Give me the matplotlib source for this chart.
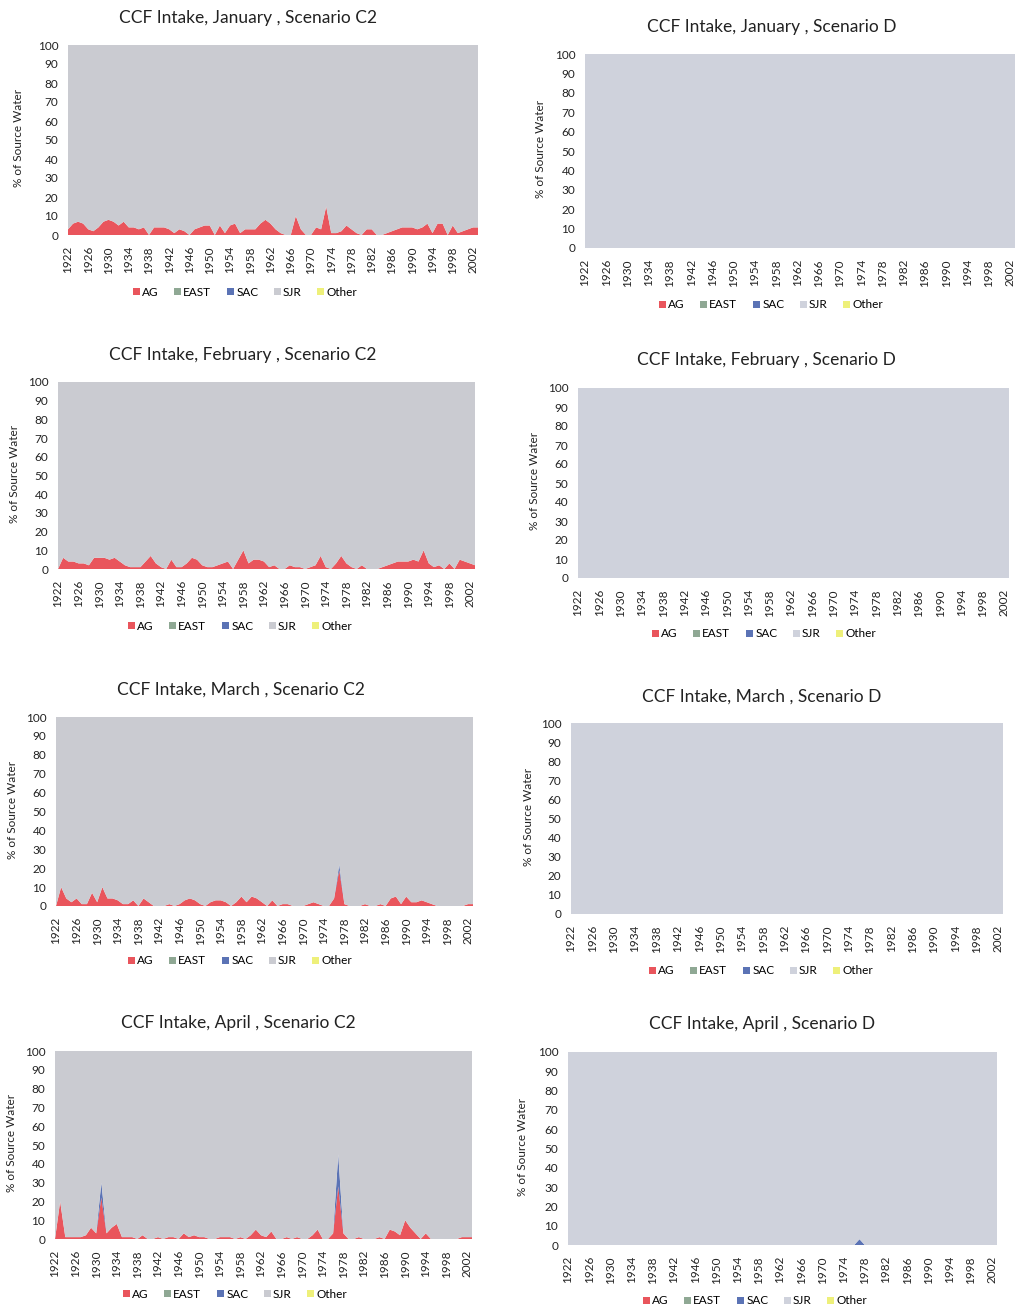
#!/usr/bin/env python3
"""CCF Intake: porcentaje de agua por fuente, enero-abril, escenarios C2 y D."""

import matplotlib

matplotlib.use("Agg")
import matplotlib.pyplot as plt
import numpy as np

ANCHO, ALTO = 1016, 1310

YEARS = np.arange(1922, 2004)
FUENTES = ["AG", "EAST", "SAC", "SJR", "Other"]
TICKS_X = np.arange(1922, 2003, 4)
TICKS_Y = np.arange(0, 101, 10)

# AG (% del agua) por año, escenario C2
AG_ENE_C2 = [
    3, 6, 7, 6, 3, 2, 4, 7, 8, 7,
    5, 7, 4, 4, 3, 4, 0, 4, 4, 4,
    3, 1, 3, 2, 0, 3, 4, 5, 5, 0,
    5, 1, 5, 6, 1, 3, 3, 3, 6, 8,
    6, 3, 1, 0, 0, 10, 3, 0, 0, 4,
    3, 15, 1, 1, 2, 5, 3, 1, 0, 3,
    3, 0, 0, 1, 2, 3, 4, 4, 4, 3,
    4, 6, 1, 6, 6, 0, 5, 1, 2, 3,
    4, 4,
]
AG_FEB_C2 = [
    0, 6, 4, 4, 3, 3, 2, 6, 6, 6,
    5, 6, 4, 2, 1, 1, 1, 4, 7, 3,
    1, 0, 5, 1, 1, 3, 6, 5, 2, 1,
    1, 2, 3, 4, 0, 5, 10, 3, 5, 5,
    4, 1, 2, 0, 0, 2, 1, 1, 0, 1,
    2, 7, 1, 0, 3, 7, 3, 1, 0, 2,
    0, 0, 0, 1, 2, 3, 4, 4, 4, 5,
    4, 10, 3, 1, 2, 0, 3, 0, 5, 4,
    3, 2,
]
AG_MAR_C2 = [
    0, 10, 4, 2, 4, 1, 1, 7, 2, 10,
    4, 4, 3, 1, 1, 3, 0, 4, 2, 0,
    0, 0, 1, 0, 1, 3, 4, 3, 1, 0,
    2, 3, 3, 2, 0, 2, 5, 2, 5, 4,
    2, 0, 3, 0, 1, 1, 0, 0, 0, 1,
    2, 1, 0, 0, 4, 19, 1, 0, 0, 0,
    1, 0, 0, 1, 0, 4, 5, 1, 5, 2,
    2, 3, 2, 1, 0, 0, 0, 0, 0, 0,
    1, 1,
]
AG_ABR_C2 = [
    0, 20, 1, 1, 1, 1, 2, 6, 3, 22,
    3, 6, 8, 1, 1, 1, 0, 2, 0, 0,
    1, 0, 1, 1, 0, 3, 1, 2, 1, 1,
    0, 0, 1, 1, 1, 0, 1, 0, 2, 5,
    2, 1, 4, 0, 0, 1, 0, 1, 0, 0,
    2, 5, 0, 0, 3, 28, 3, 0, 0, 1,
    0, 0, 0, 1, 0, 5, 4, 2, 10, 6,
    3, 0, 3, 0, 0, 0, 0, 0, 0, 1,
    1, 1,
]

# SAC: solo años con valor visible
SAC_MAR_C2 = {1977: 3}
SAC_ABR_C2 = {1931: 8, 1977: 17}
SAC_ABR_D = {1977: 3}

COLORES = {
    "AG": "#e9555c",
    "EAST": "#8fa894",
    "SAC": "#5b73b5",
    "Other": "#eef07a",
}
COLOR_SJR = {"C2": "#cacbd1", "D": "#cfd2dc"}


def configurar_estilo() -> None:
    plt.rcParams.update(
        {
            "font.family": ["Lato", "DejaVu Sans"],
            "figure.facecolor": "white",
            "axes.facecolor": "white",
            "savefig.facecolor": "white",
            "axes.spines.top": False,
            "axes.spines.right": False,
            "axes.spines.left": False,
            "axes.spines.bottom": False,
        }
    )


def serie_dispersa(valores: dict) -> np.ndarray:
    serie = np.zeros(len(YEARS))
    for anio, v in valores.items():
        serie[anio - YEARS[0]] = v
    return serie


def rect(x1922, x2002, y100, y0):
    px_anio = (x2002 - x1922) / 80.0
    derecha = x2002 + px_anio
    desp = 2
    return [
        x1922 / ANCHO,
        1 - (y0 + desp) / ALTO,
        (derecha - x1922) / ANCHO,
        (y0 - y100) / ALTO,
    ]


def dibujar_panel(fig, panel) -> None:
    mes, esc, ag, sac, caja, titulo_xy, leyenda_xy, ylabel_x = panel
    ax = fig.add_axes(rect(*caja))

    ag = np.asarray(ag, dtype=float)
    east = np.zeros(len(YEARS))
    other = np.zeros(len(YEARS))
    sjr = 100 - ag - east - sac - other

    colores = [COLORES["AG"], COLORES["EAST"], COLORES["SAC"], COLOR_SJR[esc], COLORES["Other"]]
    ax.stackplot(YEARS, ag, east, sac, sjr, other, labels=FUENTES, colors=colores, linewidth=0)

    ax.set_xlim(1922, 2003)
    ax.set_ylim(0, 100)
    ax.set_xticks(TICKS_X)
    ax.set_xticklabels([str(t) for t in TICKS_X], rotation=90)
    ax.set_yticks(TICKS_Y)
    ax.tick_params(axis="both", length=0, labelsize=8.5, colors="#222222")
    ax.tick_params(axis="x", pad=8)
    ax.tick_params(axis="y", pad=7)

    fig.text(
        titulo_xy[0] / ANCHO,
        1 - titulo_xy[1] / ALTO,
        f"CCF Intake, {mes} , Scenario {esc}",
        ha="center",
        va="center",
        fontsize=12.5,
        color="#222222",
    )
    fig.text(
        ylabel_x / ANCHO,
        1 - ((caja[2] + caja[3]) / 2) / ALTO,
        "% of Source Water",
        rotation=90,
        ha="center",
        va="center",
        fontsize=8.5,
        color="#222222",
    )
    ax.legend(
        loc="center",
        bbox_to_anchor=(leyenda_xy[0] / ANCHO, 1 - leyenda_xy[1] / ALTO),
        bbox_transform=fig.transFigure,
        ncol=5,
        frameon=False,
        fontsize=8.5,
        handlelength=0.6,
        handleheight=0.6,
        handletextpad=0.2,
        columnspacing=1.3,
    )


def main() -> None:
    configurar_estilo()
    fig = plt.figure(figsize=(ANCHO / 100, ALTO / 100), dpi=100)

    cero = np.zeros(len(YEARS))
    paneles = [
        ("January", "C2", AG_ENE_C2, cero, (68, 473, 43, 233), (248, 18), (245, 292), 19),
        ("January", "D", cero, cero, (585, 1010, 52, 246), (772, 27), (771, 305), 540),
        ("February", "C2", AG_FEB_C2, cero, (58, 470, 380, 567), (243, 355), (240, 626), 15),
        ("February", "D", cero, cero, (578, 1004, 386, 576), (766, 360), (764, 634), 535),
        ("March", "C2", AG_MAR_C2, serie_dispersa(SAC_MAR_C2), (56, 468, 715, 904), (241, 690), (240, 961), 13),
        ("March", "D", cero, cero, (571, 998, 721, 912), (762, 697), (761, 971), 528),
        ("April", "C2", AG_ABR_C2, serie_dispersa(SAC_ABR_C2), (55, 467, 1049, 1237), (238, 1023), (235, 1294), 12),
        ("April", "D", cero, serie_dispersa(SAC_ABR_D), (568, 992, 1050, 1243), (762, 1024), (755, 1301), 523),
    ]
    for panel in paneles:
        dibujar_panel(fig, panel)

    fig.savefig("out.png", dpi=100)
    plt.close(fig)


if __name__ == "__main__":
    main()
